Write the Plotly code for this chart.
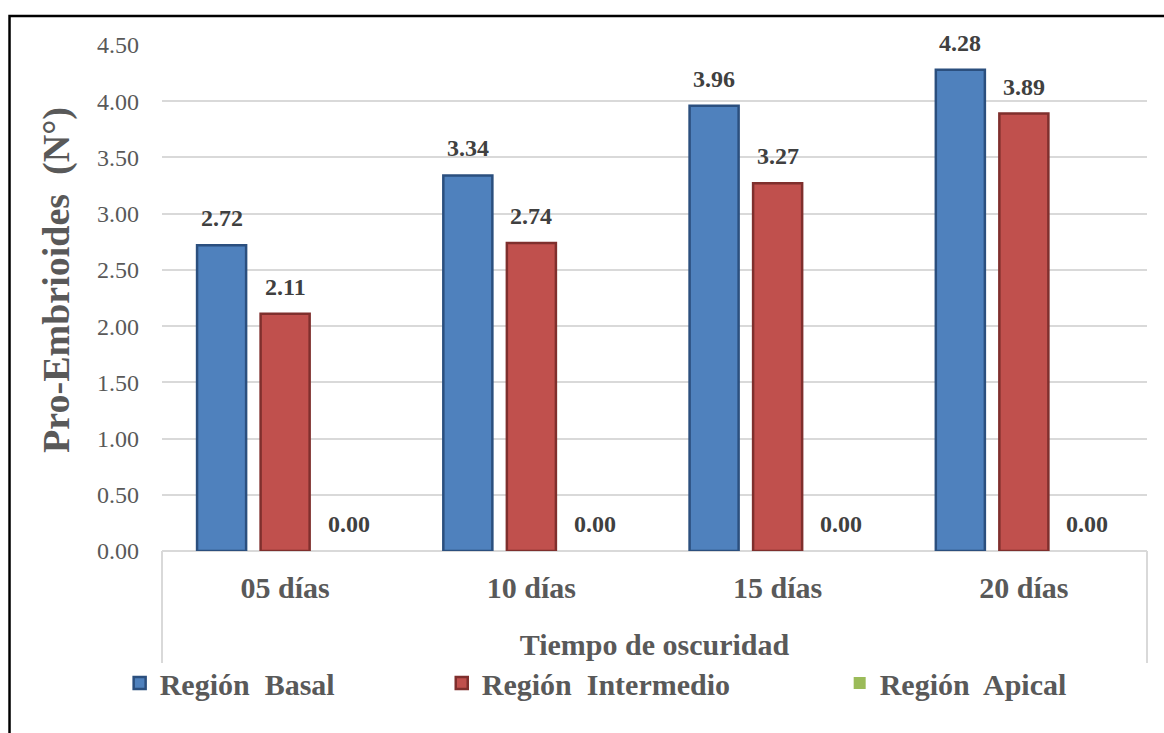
import plotly.graph_objects as go

# Pro-embryoid counts by explant region and days in darkness
categorias = ["05 días", "10 días", "15 días", "20 días"]
basal = [2.72, 3.34, 3.96, 4.28]
intermedio = [2.11, 2.74, 3.27, 3.89]
apical = [0.00, 0.00, 0.00, 0.00]

series = [
    ("Región  Basal", basal, "#4F81BD", "#2B4F7E"),
    ("Región  Intermedio", intermedio, "#C0504D", "#7F2F2D"),
    ("Región  Apical", apical, "#9BBB59", "#637D32"),
]

SERIF = "Liberation Serif, Times New Roman, serif"
GRIS = "#595959"
REJILLA = "#D9D9D9"

fig = go.Figure()
legendas = ["legend", "legend2", "legend3"]
for (nombre, valores, color, borde), leg in zip(series, legendas):
    ancho_borde = 2.5 if max(valores) > 0 else 0
    fig.add_trace(go.Bar(
        name=nombre,
        x=categorias,
        y=valores,
        marker=dict(color=color, line=dict(color=borde, width=ancho_borde)),
        legend=leg,
    ))

# value labels above each bar
desplaz = [-63.5, 0.0, 63.5]
for (nombre, valores, _, _), dx in zip(series, desplaz):
    for cat, v in zip(categorias, valores):
        fig.add_annotation(
            x=cat, y=v, xref="x", yref="y",
            text=f"{v:.2f}", showarrow=False,
            xshift=dx, yshift=12, yanchor="bottom",
            font=dict(family=SERIF, size=24, color="#404040", weight="bold"),
        )

# y-axis title
fig.add_annotation(
    x=-0.107, y=0.535, xref="paper", yref="paper",
    xanchor="center", yanchor="middle",
    text="Pro-Embrioides  (N°)", textangle=-90, showarrow=False,
    font=dict(family=SERIF, size=38, color=GRIS, weight="bold"),
)

# category box below the axis
for xp in (0, 1):
    fig.add_shape(type="line", xref="paper", yref="paper",
                  x0=xp, x1=xp, y0=0, y1=-0.2213,
                  line=dict(color=REJILLA, width=2))

# outer frame
fig.add_shape(type="rect", xref="paper", yref="paper",
              x0=-0.1548, x1=1.03, y0=-0.4, y1=1.0573,
              line=dict(color="black", width=2.5))

leg_font = dict(family=SERIF, size=30, color=GRIS, weight="bold")
leg_comun = dict(orientation="h", yanchor="middle", y=-0.261,
                 xanchor="left", font=leg_font, bgcolor="rgba(0,0,0,0)")

fig.update_layout(
    width=1164, height=733,
    margin=dict(l=162, r=17, t=45, b=182),
    paper_bgcolor="white", plot_bgcolor="white",
    barmode="group", bargap=0.226, bargroupgap=0.228,
    showlegend=True,
    legend=dict(x=-0.043, **leg_comun),
    legend2=dict(x=0.284, **leg_comun),
    legend3=dict(x=0.688, **leg_comun),
    xaxis=dict(
        showgrid=False, showline=False, ticks="",
        tickfont=dict(family=SERIF, size=30, color=GRIS, weight="bold"),
        ticklabelstandoff=16,
        title=dict(text="Tiempo de oscuridad", standoff=30,
                   font=dict(family=SERIF, size=30, color=GRIS, weight="bold")),
    ),
    yaxis=dict(
        range=[0, 4.5], dtick=0.5, tickformat=".2f",
        showgrid=True, gridcolor=REJILLA, gridwidth=2,
        zeroline=True, zerolinecolor=REJILLA, zerolinewidth=2,
        showline=False, ticks="",
        ticklabelstandoff=22,
        tickfont=dict(family=SERIF, size=24, color=GRIS),
    ),
)

fig.write_html("out.html")
